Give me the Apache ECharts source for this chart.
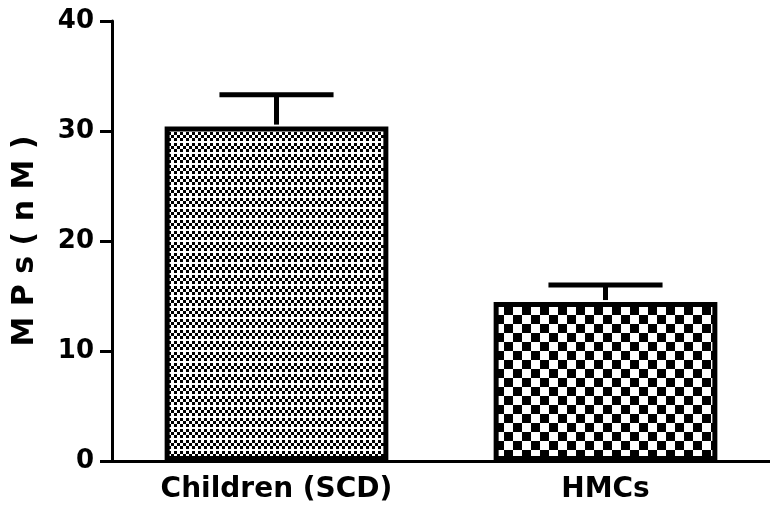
<!DOCTYPE html>
<html>
<head>
<meta charset="utf-8">
<script src="https://cdn.jsdelivr.net/npm/echarts@6/dist/echarts.min.js"></script>
<style>
  html, body { margin: 0; padding: 0; background: #fff; }
  #chart { width: 770px; height: 515px; }
</style>
</head>
<body>
<div id="chart"></div>
<script>
// Groups, mean MP concentration and upper SEM
const categories = ['Children (SCD)', 'HMCs'];
const meanValues = [30.4, 14.45];
const semValues = [2.9, 1.55];
const yTicks = [0, 10, 20, 30, 40];

// Fine dither with light horizontal rows (first group)
function finePattern() {
  const c = document.createElement('canvas');
  c.width = 6; c.height = 11;
  const g = c.getContext('2d');
  g.fillStyle = '#fff'; g.fillRect(0, 0, 6, 11);
  g.fillStyle = '#000';
  g.fillRect(0, 0, 3, 3);
  g.fillRect(3, 3, 3, 3);
  g.fillRect(0, 6, 3, 3);
  return c;
}

// Coarse checkerboard (second group)
function checkerPattern() {
  const c = document.createElement('canvas');
  const s = 9;
  c.width = s * 2; c.height = s * 2;
  const g = c.getContext('2d');
  g.fillStyle = '#fff'; g.fillRect(0, 0, s * 2, s * 2);
  g.fillStyle = '#000';
  g.fillRect(0, 0, s, s);
  g.fillRect(s, s, s, s);
  return c;
}

const fills = [
  { image: finePattern(), repeat: 'repeat' },
  { image: checkerPattern(), repeat: 'repeat' }
];

const BAR_RATIO = 0.68;

const chart = echarts.init(document.getElementById('chart'), null, { renderer: 'canvas' });

chart.setOption({
  backgroundColor: '#fff',
  animation: false,
  grid: { left: 112, right: -2, top: 21, bottom: 54, containLabel: false },
  xAxis: {
    type: 'category',
    data: categories,
    axisLine: { lineStyle: { color: '#000', width: 3 } },
    axisTick: { alignWithLabel: true, length: 9, lineStyle: { color: '#000', width: 3 } },
    axisLabel: {
      color: '#000', fontFamily: 'DejaVu Sans', fontWeight: 'bold', fontSize: 28, margin: 15
    },
    splitLine: { show: false }
  },
  yAxis: {
    type: 'value',
    min: yTicks[0],
    max: yTicks[yTicks.length - 1],
    interval: 10,
    name: 'M P s ( n M )',
    nameLocation: 'middle',
    nameGap: 72,
    nameRotate: 90,
    nameTextStyle: { color: '#000', fontFamily: 'DejaVu Sans', fontWeight: 'bold', fontSize: 30 },
    axisLine: { show: true, lineStyle: { color: '#000', width: 3 } },
    axisTick: { show: true, length: 12, lineStyle: { color: '#000', width: 3 } },
    axisLabel: {
      color: '#000', fontFamily: 'DejaVu Sans', fontWeight: 'bold', fontSize: 26, margin: 18
    },
    splitLine: { show: false }
  },
  series: [
    {
      type: 'bar',
      barWidth: (BAR_RATIO * 100) + '%',
      data: meanValues.map((v, i) => ({
        value: v,
        itemStyle: { color: fills[i], borderColor: '#000', borderWidth: 5 }
      })),
      z: 2
    },
    {
      type: 'custom',
      z: 3,
      data: meanValues.map((v, i) => [i, v, v + semValues[i]]),
      renderItem: function (params, api) {
        const idx = api.value(0);
        const base = api.coord([idx, api.value(1)]);
        const top = api.coord([idx, api.value(2)]);
        const band = api.size([1, 0])[0];
        const half = band * BAR_RATIO * 0.255;
        const style = { stroke: '#000', lineWidth: 5, fill: null };
        return {
          type: 'group',
          children: [
            { type: 'line', shape: { x1: base[0], y1: base[1] - 2, x2: top[0], y2: top[1] }, style: style },
            { type: 'line', shape: { x1: top[0] - half, y1: top[1], x2: top[0] + half, y2: top[1] }, style: style }
          ]
        };
      }
    }
  ]
});
</script>
</body>
</html>
